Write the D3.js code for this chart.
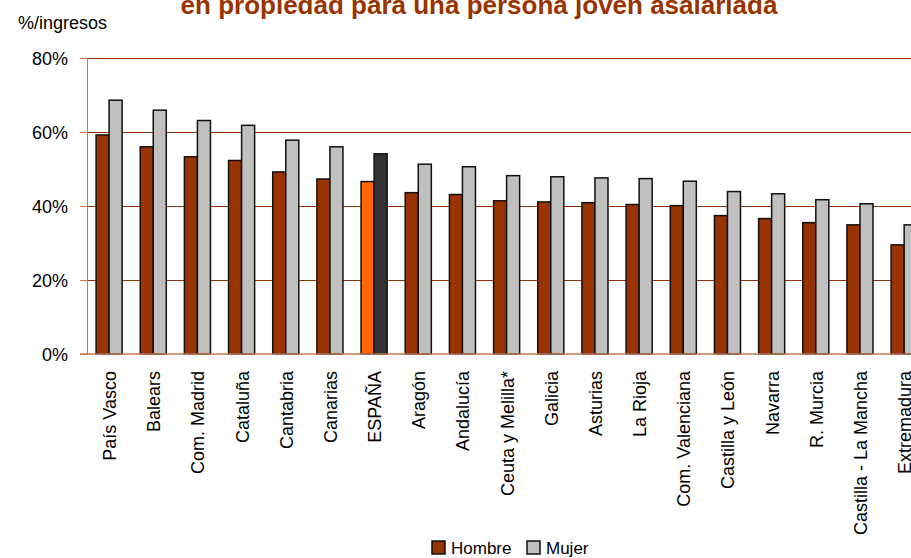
<!DOCTYPE html>
<html lang="es">
<head>
  <meta charset="UTF-8">
  <title>Coste de acceso a la vivienda</title>
  <script src="https://d3js.org/d3.v7.min.js"></script>
  <style>
    body { margin: 0; background: #fff; }
    svg text { font-family: "Liberation Sans", Arial, sans-serif; fill: #000; }
    .title { font-weight: bold; fill: #993300; }
    .axis path, .axis line { stroke: #c07a55; shape-rendering: crispEdges; }
    .grid line { shape-rendering: crispEdges; }
  </style>
</head>
<body>
  <div id="chart"></div>
  <script>
    const regions = ["País Vasco", "Balears", "Com. Madrid", "Cataluña", "Cantabria", "Canarias", "ESPAÑA",
      "Aragón", "Andalucía", "Ceuta y Melilla*", "Galicia", "Asturias", "La Rioja", "Com. Valenciana",
      "Castilla y León", "Navarra", "R. Murcia", "Castilla - La Mancha", "Extremadura"];
    const hombre = [59.2, 56.0, 53.3, 52.3, 49.2, 47.3, 46.6, 43.6, 43.1, 41.4, 41.1, 40.9, 40.4, 40.1, 37.4, 36.6, 35.5, 34.9, 29.5];
    const mujer = [68.6, 65.9, 63.1, 61.8, 57.8, 56.0, 54.1, 51.3, 50.6, 48.2, 47.9, 47.6, 47.4, 46.7, 43.9, 43.3, 41.7, 40.6, 34.9];
    const series = ["Hombre", "Mujer"];
    const yTicks = [0, 20, 40, 60, 80];

    const W = 911, H = 558;
    const plotLeft = 87, plotTop = 58, plotBottom = 354;
    const step = 44.17;

    const svg = d3.select("#chart").append("svg")
      .attr("width", W).attr("height", H);

    const x = d3.scaleBand()
      .domain(regions)
      .range([plotLeft, plotLeft + step * regions.length])
      .paddingInner(0.41)
      .paddingOuter(0.205);

    const xs = d3.scaleBand().domain(series).range([0, x.bandwidth()]);

    const y = d3.scaleLinear().domain([0, 80]).range([plotBottom, plotTop]);

    const fillFor = (region, s) => {
      if (region === "ESPAÑA") return s === "Hombre" ? "#ff6600" : "#333333";
      return s === "Hombre" ? "#993300" : "#c0c0c0";
    };

    // title (upper part falls outside the picture, as in the source)
    svg.append("text")
      .attr("class", "title")
      .attr("x", 479).attr("y", 14)
      .attr("text-anchor", "middle")
      .style("font-size", "26px")
      .text("en propiedad para una persona joven asalariada");

    svg.append("text")
      .attr("x", 18).attr("y", 29)
      .style("font-size", "18px")
      .text("%/ingresos");

    // gridlines
    svg.append("g")
      .attr("class", "grid")
      .selectAll("line")
      .data(yTicks.filter(d => d > 0))
      .enter().append("line")
      .attr("x1", plotLeft).attr("x2", W)
      .attr("y1", d => y(d)).attr("y2", d => y(d))
      .attr("stroke", "#993300").attr("stroke-width", 1);

    // y axis
    const yAxis = svg.append("g")
      .attr("class", "axis")
      .attr("transform", `translate(${plotLeft},0)`)
      .call(d3.axisLeft(y).tickValues(yTicks).tickSize(7).tickPadding(12).tickFormat(d => d + "%"));
    yAxis.select(".domain").attr("d", `M-7,${plotTop}H0V${plotBottom}H-7`);
    yAxis.selectAll("text").style("font-size", "18px").attr("dy", "0.35em");

    // bars
    const groups = svg.append("g")
      .selectAll("g")
      .data(regions)
      .enter().append("g")
      .attr("transform", d => `translate(${x(d)},0)`);

    groups.selectAll("rect")
      .data((d, i) => [
        { region: d, s: "Hombre", v: hombre[i] },
        { region: d, s: "Mujer", v: mujer[i] }
      ])
      .enter().append("rect")
      .attr("x", d => xs(d.s))
      .attr("y", d => y(d.v))
      .attr("width", xs.bandwidth())
      .attr("height", d => y(0) - y(d.v))
      .attr("fill", d => fillFor(d.region, d.s))
      .attr("stroke", "#111")
      .attr("stroke-width", 1.5);

    // baseline
    svg.append("line")
      .attr("x1", plotLeft - 7).attr("x2", W)
      .attr("y1", y(0)).attr("y2", y(0))
      .attr("stroke", "#c07a55").attr("stroke-width", 1.5);

    // category labels
    svg.append("g")
      .selectAll("text")
      .data(regions)
      .enter().append("text")
      .attr("transform", d => `translate(${x(d) + x.bandwidth() / 2 + 7},371) rotate(-90)`)
      .attr("text-anchor", "end")
      .style("font-size", "18px")
      .text(d => d);

    // legend
    const legend = svg.append("g").attr("transform", "translate(432,541)");
    const lx = [0, 95];
    series.forEach((s, i) => {
      legend.append("rect")
        .attr("x", lx[i]).attr("y", 0)
        .attr("width", 13).attr("height", 13)
        .attr("fill", s === "Hombre" ? "#993300" : "#c0c0c0")
        .attr("stroke", "#111").attr("stroke-width", 1.5);
      legend.append("text")
        .attr("x", lx[i] + 19).attr("y", 13)
        .style("font-size", "17px")
        .text(s);
    });
  </script>
</body>
</html>
